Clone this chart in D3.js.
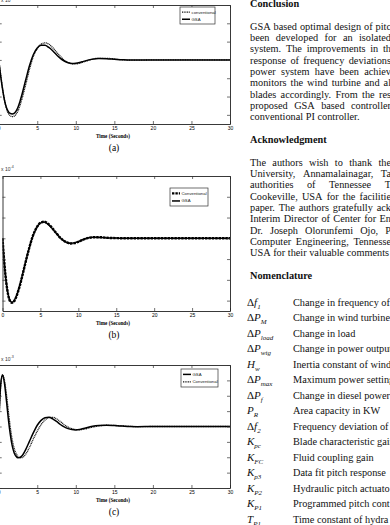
<!DOCTYPE html>
<html>
<head>
<meta charset="utf-8">
<script src="https://cdn.jsdelivr.net/npm/d3@7/dist/d3.min.js"></script>
<style>
body{margin:0;background:#fff;}
svg{display:block;}
.tick text{font-family:"Liberation Sans",Arial,sans-serif;}
</style>
</head>
<body>
<div id="page"></div>
<script>
// sampling times (seconds)
let time_pts = [0,0.25,0.5,0.75,1,1.25,1.5,1.75,2,2.25,2.5,2.75,3,3.5,4,4.5,5,5.5,6,6.5,7,7.5,8,8.5,9,9.5,10,10.5,11,12,13,14,15,16,17,18,20,22,25,30];

// (a)
let a_conv = [0,-0.8,-1.55,-2.2,-2.65,-2.92,-3.05,-3.1,-3.07,-2.97,-2.78,-2.5,-2.15,-1.35,-0.5,0.2,0.62,0.86,0.93,0.86,0.67,0.43,0.19,-0.01,-0.14,-0.21,-0.22,-0.18,-0.11,0.02,0.09,0.09,0.05,0.01,-0.01,-0.01,0,0,0,0];
let a_gsa  = [0,-0.85,-1.6,-2.2,-2.6,-2.82,-2.92,-2.95,-2.92,-2.8,-2.58,-2.28,-1.92,-1.1,-0.3,0.3,0.65,0.8,0.8,0.68,0.5,0.28,0.08,-0.06,-0.15,-0.19,-0.18,-0.14,-0.08,0.03,0.08,0.07,0.04,0.01,-0.01,-0.01,0,0,0,0];
// (b)
let b_conv = [0,-1.22,-2.13,-2.73,-3.03,-3.1,-3.05,-2.88,-2.63,-2.33,-1.98,-1.6,-1.22,-0.5,0.11,0.52,0.75,0.8,0.7,0.52,0.29,0.07,-0.1,-0.2,-0.25,-0.23,-0.17,-0.09,-0.02,0.05,0.05,0.02,0.01,0,0,0,0,0,0,0];
let b_gsa  = [0,-1.25,-2.15,-2.72,-3.0,-3.08,-3.02,-2.85,-2.6,-2.3,-1.95,-1.58,-1.2,-0.5,0.1,0.5,0.73,0.78,0.68,0.5,0.28,0.06,-0.1,-0.2,-0.24,-0.22,-0.16,-0.08,-0.01,0.05,0.04,0.02,0.01,0,0,0,0,0,0,0];
// (c)
let c_gsa  = [0,2.7,3.35,2.8,1.7,0.5,-0.5,-1.25,-1.7,-1.93,-2.03,-2.02,-1.92,-1.5,-0.95,-0.4,0.08,0.4,0.57,0.6,0.5,0.33,0.13,-0.03,-0.14,-0.2,-0.22,-0.19,-0.13,0,0.07,0.08,0.06,0.03,0,-0.01,0,0,0,0];
let c_conv = [0,2.5,3.35,3.0,2.1,1.0,-0.05,-0.85,-1.4,-1.75,-1.95,-2.03,-2.03,-1.8,-1.35,-0.8,-0.3,0.12,0.42,0.58,0.6,0.5,0.32,0.12,-0.04,-0.14,-0.2,-0.21,-0.18,-0.06,0.04,0.08,0.07,0.04,0.01,-0.01,0,0,0,0];

let x_ticks = [0,5,10,15,20,25,30];
let x_title = 'Time (Seconds)';

let conclusion_lines = [
    'GSA based optimal design of pitc',
    'been developed for an isolated',
    'system. The improvements in th',
    'response of frequency deviations',
    'power system have been achiev',
    'monitors the wind turbine and al',
    'blades accordingly. From the res',
    'proposed GSA based controller',
    'conventional PI controller.'
];
let thanks_lines = [
    'The authors wish to thank the',
    'University, Annamalainagar, Ta',
    'authorities of Tennessee T',
    'Cookeville, USA for the facilitie',
    'paper. The authors gratefully ack',
    'Interim Director of Center for En',
    'Dr. Joseph Olorunfemi Ojo, P',
    'Computer Engineering, Tennesse',
    'USA for their valuable comments a'
];
let nom_syms = [['Δ','f','1'],['Δ','P','M'],['Δ','P','load'],['Δ','P','wtg'],['','H','w'],['Δ','P','max'],['Δ','P','f'],
    ['','P','R'],['Δ','f','2'],['','K','pc'],['','K','FC'],['','K','p3'],['','K','P2'],['','K','P1'],['','T','P1']];
let nom_desc = ['Change in frequency of w','Change in wind turbine p','Change in load','Change in power output',
    'Inertia constant of wind','Maximum power setting','Change in diesel power','Area capacity in KW',
    'Frequency deviation of','Blade characteristic gain','Fluid coupling gain','Data fit pitch response',
    'Hydraulic pitch actuato','Programmed pitch cont','Time constant of hydra'];

let W = 390, H = 525;
let svg = d3.select('#page').append('svg').attr('width', W).attr('height', H)
    .style('background-color', '#FFFFFF');

// ---------- plots ----------
let panels = [
    {tag:'(a)', left:-1.3, right:230, top:5, bottom:124, ymin:-3.5, ymax:3, expo:'-4', expoY:2,
     series:[{name:'conventional', vals:a_conv, style:'dot'}, {name:'GSA', vals:a_gsa, style:'solid'}],
     legend:{x:180, y:7, w:35, h:17}},
    {tag:'(b)', left:2.5, right:230, top:176, bottom:311, ymin:-3.5, ymax:3, expo:'-4', expoY:171,
     series:[{name:'Conventional', vals:b_conv, style:'dash'}, {name:'GSA', vals:b_gsa, style:'solid'}],
     legend:{x:170, y:188, w:38, h:18}},
    {tag:'(c)', left:-1.3, right:230, top:365, bottom:488, ymin:-4, ymax:4, expo:'-3', expoY:361,
     series:[{name:'GSA', vals:c_gsa, style:'solid'}, {name:'Conventional', vals:c_conv, style:'dot'}],
     legend:{x:181, y:369, w:37, h:18}}
];

function line_style(sel, style){
    if(style === 'solid'){
        sel.attr('stroke', '#000').attr('stroke-width', 1.5);
    } else if(style === 'dot'){
        sel.attr('stroke', '#111').attr('stroke-width', 1.3).attr('stroke-dasharray', '1,0.7');
    } else {
        sel.attr('stroke', '#000').attr('stroke-width', 2.4).attr('stroke-dasharray', '2.4,1');
    }
    return sel;
}

panels.forEach((p, pi) => {
    let x = d3.scaleLinear().domain([0, 30]).range([p.left, p.right]);
    let y = d3.scaleLinear().domain([p.ymin, p.ymax]).range([p.bottom, p.top]);
    let g = svg.append('g').attr('class', 'panel');

    let clipId = 'clip' + pi;
    g.append('clipPath').attr('id', clipId).append('rect')
        .attr('x', p.left).attr('y', p.top).attr('width', p.right - p.left).attr('height', p.bottom - p.top);

    let line = d3.line().x((d, i) => x(time_pts[i])).y(d => y(d)).curve(d3.curveMonotoneX);
    let lines = g.append('g').attr('clip-path', 'url(#' + clipId + ')');
    // dashed/dotted first, solid on top
    p.series.slice().sort((s1, s2) => (s1.style === 'solid') - (s2.style === 'solid')).forEach(s => {
        line_style(lines.append('path').datum(s.vals).attr('fill', 'none').attr('d', line), s.style);
    });

    // frame with inward ticks, matlab style (y labels fall off the page on the left)
    let yt = d3.range(Math.ceil(p.ymin), Math.floor(p.ymax) + 1);
    g.append('g').attr('transform', `translate(0,${p.bottom})`)
        .call(d3.axisBottom(x).tickValues(x_ticks).tickSize(-3).tickSizeOuter(0).tickPadding(2.5))
        .call(a => a.selectAll('text').attr('font-size', 5));
    g.append('g').attr('transform', `translate(0,${p.top})`)
        .call(d3.axisTop(x).tickValues(x_ticks).tickSize(-3).tickSizeOuter(0).tickFormat(''));
    g.append('g').attr('transform', `translate(${p.left},0)`)
        .call(d3.axisLeft(y).tickValues(yt).tickSize(-3).tickSizeOuter(0).tickFormat(''));
    g.append('g').attr('transform', `translate(${p.right},0)`)
        .call(d3.axisRight(y).tickValues(yt).tickSize(-3).tickSizeOuter(0).tickFormat(''));
    g.selectAll('.domain').attr('stroke', '#222').attr('stroke-width', 0.9);
    g.selectAll('.tick line').attr('stroke', '#333').attr('stroke-width', 0.7);

    // exponent
    let ex = g.append('text').attr('x', 1).attr('y', p.expoY)
        .attr('font-family', 'Liberation Sans, sans-serif').attr('font-size', 5).attr('fill', '#333');
    ex.append('tspan').text('x 10');
    ex.append('tspan').attr('dy', -3).attr('font-size', 3.6).text(p.expo);

    // titles
    g.append('text').attr('x', 113).attr('y', p.bottom + 13.5)
        .attr('text-anchor', 'middle').attr('font-family', 'Liberation Serif, serif')
        .attr('font-weight', 'bold').attr('font-size', 7)
        .attr('textLength', 34).attr('lengthAdjust', 'spacingAndGlyphs').text(x_title);
    g.append('text').attr('x', 114).attr('y', p.bottom + 27)
        .attr('text-anchor', 'middle').attr('font-family', 'Liberation Serif, serif')
        .attr('font-size', 9.5).text(p.tag);

    // legend
    let L = p.legend;
    let lg = g.append('g').attr('transform', `translate(${L.x},${L.y})`);
    lg.append('rect').attr('width', L.w).attr('height', L.h)
        .attr('fill', '#fff').attr('stroke', '#333').attr('stroke-width', 0.7);
    p.series.forEach((s, i) => {
        let yy = L.h * (i === 0 ? 0.3 : 0.72);
        line_style(lg.append('line').attr('x1', 2).attr('x2', 10).attr('y1', yy).attr('y2', yy), s.style);
        lg.append('text').attr('x', 11.5).attr('y', yy + 1.5)
            .attr('font-family', 'Liberation Sans, sans-serif').attr('font-size', 4.3)
            .attr('fill', '#222').text(s.name);
    });
});

// ---------- right text column ----------
let col_x = 250;
let body_size = 10.3;
let lh = 11.33;
let body = svg.append('g').attr('font-family', 'Liberation Serif, Times New Roman, serif')
    .attr('font-size', body_size).attr('fill', '#111');

function put_line(txt, yy, justify){
    let t = body.append('text').attr('y', yy);
    let words = txt.split(' ');
    let spans = words.map(w => t.append('tspan').text(w));
    let widths = spans.map(s => s.node().getComputedTextLength());
    let space = body_size * 0.25;
    let gap = space;
    if(justify && words.length > 1){
        gap = Math.max(space, (391 - col_x - d3.sum(widths)) / (words.length - 1));
    }
    let cx = col_x;
    spans.forEach((s, i) => { s.attr('x', cx); cx += widths[i] + gap; });
}

function heading(txt, yy){
    body.append('text').attr('x', col_x).attr('y', yy).attr('font-weight', 'bold').text(txt);
}

let yy = 7;
heading('Conclusion', yy);
yy += 2 * lh;
conclusion_lines.forEach((s, i) => { put_line(s, yy, i < conclusion_lines.length - 1); yy += lh; });
yy += lh;
heading('Acknowledgment', yy);
yy += 2 * lh;
thanks_lines.forEach(s => { put_line(s, yy, true); yy += lh; });
yy += lh;
heading('Nomenclature', yy);

let row_y = 305.5, row_h = 15.5;
nom_syms.forEach((s, i) => {
    let t = body.append('text').attr('x', 247).attr('y', row_y + i * row_h).attr('font-size', 11);
    if(s[0]) t.append('tspan').text(s[0]);
    t.append('tspan').attr('font-style', 'italic').text(s[1]);
    t.append('tspan').attr('font-style', 'italic').attr('font-size', 7).attr('dy', 3).text(s[2]);
    body.append('text').attr('x', 293).attr('y', row_y + i * row_h).text(nom_desc[i]);
});
</script>
</body>
</html>
